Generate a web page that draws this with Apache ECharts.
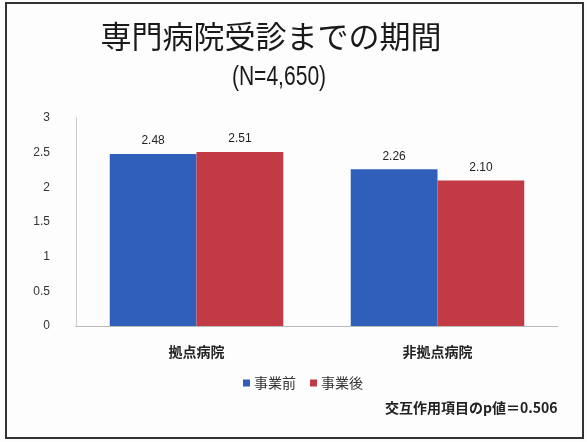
<!DOCTYPE html>
<html><head><meta charset="utf-8">
<script src="https://cdn.jsdelivr.net/npm/echarts@6/dist/echarts.min.js"></script>
<style>html,body{margin:0;padding:0;background:#fff}#c{width:587px;height:442px}</style>
</head><body><div id="c"></div>
<script>
const categories = ['拠点病院', '非拠点病院'];
const seriesNames = ['事業前', '事業後'];
const before = [2.48, 2.26];
const after = [2.51, 2.10];
const yTicks = [0, 0.5, 1, 1.5, 2, 2.5, 3];
const titleText = '専門病院受診までの期間';
const subText = '(N=4,650)';
const noteText = '交互作用項目のp値＝0.506';

const font = '"Noto Sans CJK JP", "Noto Sans", sans-serif';
const chart = echarts.init(document.getElementById('c'), null, {renderer: 'canvas'});
chart.setOption({
  backgroundColor: '#fdfdfd',
  animation: false,
  title: [
    {text: titleText, left: 266, textAlign: 'center', top: 16, textStyle: {fontFamily: font, fontSize: 31, fontWeight: 'normal', color: '#1a1a1a'}}
  ],
  legend: {
    data: seriesNames, left: 238, top: 371, itemWidth: 7, itemHeight: 7, itemGap: 14,
    icon: 'rect', textStyle: {fontFamily: font, fontSize: 14, color: '#333', padding: [0,0,0,-1]}
  },
  grid: {left: 76, right: 29, top: 118, bottom: 116, containLabel: false},
  xAxis: {
    type: 'category', data: categories,
    axisLine: {show: true, lineStyle: {color: '#bbb'}}, axisTick: {show: false},
    axisLabel: {fontFamily: font, fontSize: 14, color: '#222', margin: 19, fontWeight: 'bold'}
  },
  yAxis: {
    type: 'value', min: yTicks[0], max: yTicks[yTicks.length-1], interval: 0.5,
    axisLine: {show: true, lineStyle: {color: '#ccc'}}, axisTick: {show: false},
    splitLine: {show: false},
    axisLabel: {fontFamily: '"Liberation Sans", sans-serif', fontSize: 12, color: '#333', margin: 26}
  },
  series: [
    {name: seriesNames[0], type: 'bar', data: before, barGap: '0%', barCategoryGap: '28%',
     itemStyle: {color: '#2f5fba'},
     label: {show: true, position: 'top', distance: 7, formatter: p => p.value.toFixed(2), fontFamily: '"Liberation Sans", sans-serif', fontSize: 12, color: '#222'}},
    {name: seriesNames[1], type: 'bar', data: after, barGap: '0%', barCategoryGap: '28%',
     itemStyle: {color: '#c23a44'},
     label: {show: true, position: 'top', distance: 7, formatter: p => p.value.toFixed(2), fontFamily: '"Liberation Sans", sans-serif', fontSize: 12, color: '#222'}}
  ],
  graphic: [
    {type: 'text', x: 279, y: 78, scaleX: 0.78, style: {text: subText, fontFamily: '"Liberation Sans", sans-serif', fontSize: 27, fill: '#1a1a1a', textAlign: 'center', textVerticalAlign: 'middle'}},
    {type: 'text', left: 385, top: 401, style: {text: noteText, fontFamily: font, fontSize: 14, fill: '#222', fontWeight: 'bold'}},
    {type: 'rect', shape: {x: 6, y: 3, width: 577, height: 435}, style: {fill: 'none', stroke: '#333', lineWidth: 2}}
  ]
});
</script></body></html>
